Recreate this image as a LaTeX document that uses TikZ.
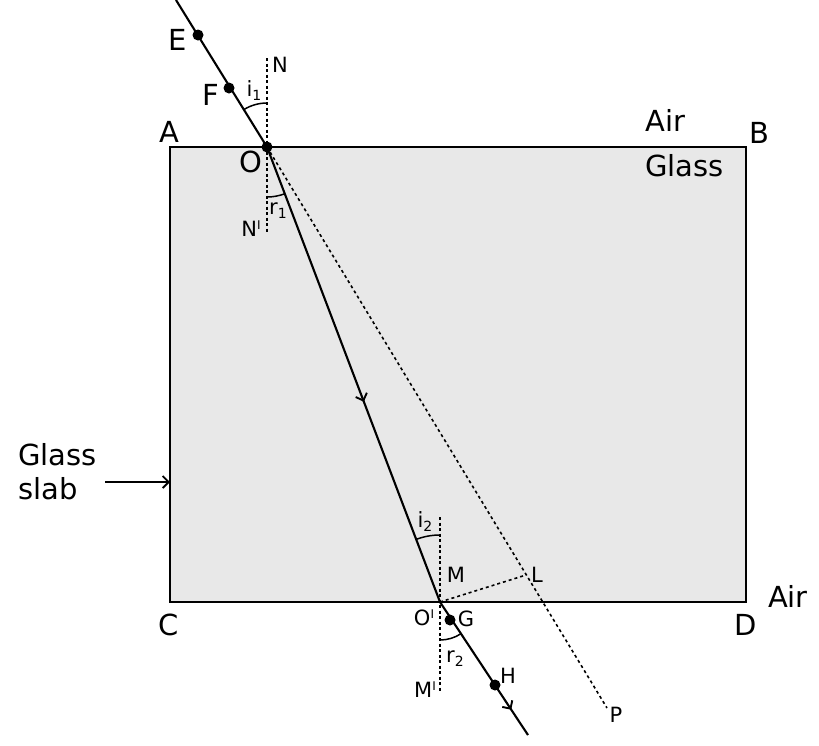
\documentclass[tikz,border=0pt]{standalone}
\usepackage{fontspec}
\setmainfont{DejaVu Sans}
\usetikzlibrary{arrows.meta,decorations.markings,angles}
\newcommand\pr{\raisebox{.6ex}{\fontsize{12}{12}\selectfont I}}
\newcommand\sub[1]{\raisebox{-.35ex}{\fontsize{14}{14}\selectfont #1}}
\definecolor{slab}{HTML}{E8E8E8}
\tikzset{
  big/.style={font=\fontsize{29}{31}\selectfont, inner sep=0pt},
  small/.style={font=\fontsize{21}{23}\selectfont, inner sep=0pt},
  ray/.style={line width=2.1pt},
  norm/.style={line width=1.6pt, dash pattern=on 3pt off 2.5pt},
  dotline/.style={line width=1.6pt, dash pattern=on 3pt off 3pt},
  dot/.style={circle, fill=black, inner sep=0pt, minimum size=11pt},
  midarrow/.style={postaction={decorate}, decoration={markings, mark=at position #1 with {\arrow{Straight Barb[length=6pt,width=12pt,line width=1.9pt]}}}},
  anglearc/.style={draw, line width=1.5pt}
}
\begin{document}
\begin{tikzpicture}[x=1pt,y=1pt]
\useasboundingbox (0,0) rectangle (819,-745);
% slab
\draw[line width=2.4pt, fill=slab] (170,-147) coordinate (A) rectangle (746,-602) coordinate (D);
% points
\coordinate (S) at (176,0);
\coordinate (E) at (198,-35);
\coordinate (F) at (229,-88);
\coordinate (O) at (267,-147);
\coordinate (O2) at (440,-602);
\coordinate (G) at (450,-620);
\coordinate (H) at (495,-685);
\coordinate (T) at (528,-735);
\coordinate (P) at (607,-708);
\coordinate (L) at (526,-575);
\coordinate (N) at (267,-58);
\coordinate (N2) at (267,-233);
\coordinate (M) at (440,-517);
\coordinate (M2) at (440,-692);
% normals
\draw[norm] (N) -- (N2);
\draw[norm] (M) -- (M2);
% dotted lines
\draw[dotline] (O) -- (P);
\draw[dotline] (O2) -- (L);
% rays
\draw[ray] (S) -- (O);
\draw[ray, midarrow=0.56] (O) -- (O2);
\draw[ray, midarrow=0.81] (O2) -- (T);
% angles
\pic[anglearc, angle radius=44pt] {angle=N--O--E};
\pic[anglearc, angle radius=50pt] {angle=N2--O--O2};
\pic[anglearc, angle radius=67pt] {angle=M--O2--O};
\pic[anglearc, angle radius=38pt] {angle=M2--O2--T};
% dots
\node[dot] (dE) at (E) {};
\node[dot] (dF) at (F) {};
\node[dot] (dO) at (O) {};
\node[dot] (dG) at (G) {};
\node[dot] (dH) at (H) {};
% big labels
\node[big] (lA) at (169,-132) {A};
\node[big] (lB) at (759,-133) {B};
\node[big] (lC) at (169,-625) {C};
\node[big] (lD) at (746,-625) {D};
\node[big] (lE) at (178,-40) {E};
\node[big] (lF) at (211,-95) {F};
\node[big] (lO) at (251,-162) {O};
\node[big, anchor=west] (air1) at (645,-120) {Air};
\node[big, anchor=west] (glass1) at (645,-166) {Glass};
\node[big] (air2) at (788,-596) {Air};
\node[big, anchor=west, align=left] (gs) at (18,-472) {Glass\\[3pt]slab};
\draw[line width=1.8pt, -{Straight Barb[length=6pt,width=12pt]}] (105,-482) -- (A |- 0,-482);
% small labels
\node[small] (lN) at (280,-65) {N};
\node[small] (lN2) at (251,-229) {N\pr};
\node[small] (li1) at (254,-91) {i\sub{1}};
\node[small] (lr1) at (278,-211) {r\sub{1}};
\node[small] (li2) at (425,-522) {i\sub{2}};
\node[small] (lr2) at (455,-659) {r\sub{2}};
\node[small] (lM) at (456,-575) {M};
\node[small] (lM2) at (425,-690) {M\pr};
\node[small] (lL) at (537,-575) {L};
\node[small] (lO2) at (424,-618) {O\pr};
\node[small] (lG) at (466,-619) {G};
\node[small] (lH) at (508,-676) {H};
\node[small] (lP) at (616,-715) {P};
\end{tikzpicture}
\end{document}
